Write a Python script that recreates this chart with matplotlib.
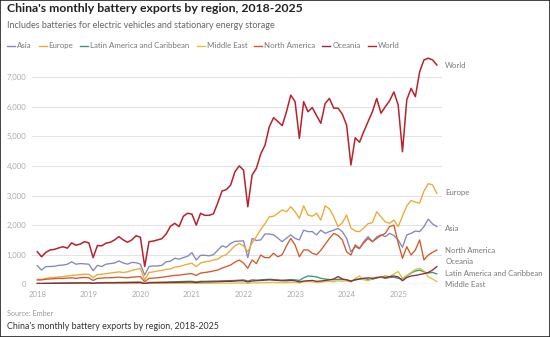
import numpy as np
import matplotlib
matplotlib.use("Agg")
import matplotlib.pyplot as plt
from matplotlib.patches import Rectangle
from matplotlib.lines import Line2D

# Monthly exports, Jan 2018 - Oct 2025 (MWh)
world = [1100, 930, 1080, 1160, 1180, 1230, 1270, 1220, 1400, 1320, 1360, 1440,
         1400, 900, 1310, 1300, 1390, 1420, 1500, 1610, 1500, 1420, 1500, 1640,
         1590, 600, 1440, 1460, 1500, 1540, 1700, 1960, 2060, 1950, 2300, 2400,
         2370, 2000, 2400, 2330, 2330, 2380, 2750, 3150, 3200, 3350, 3800, 4000,
         3860, 2620, 3690, 3920, 4400, 4700, 5320, 5630, 5500, 5360, 5830, 6390,
         6170, 4930, 6170, 5830, 5970, 5700, 5440, 6110, 6280, 5950, 5950, 5750,
         5380, 4030, 4950, 4800, 5160, 5500, 5830, 6280, 5780, 6000, 6200, 6500,
         6060, 4480, 6230, 6620, 6340, 7180, 7580, 7640, 7580, 7410]

asia = [630, 480, 600, 600, 610, 640, 650, 680, 760, 680, 700, 690,
        680, 460, 640, 600, 680, 700, 720, 790, 720, 680, 740, 730,
        680, 310, 600, 620, 620, 640, 760, 780, 880, 850, 900, 950,
        1070, 820, 980, 980, 960, 1000, 1150, 1300, 1250, 1380, 1450, 1460,
        1470, 900, 1550, 1480, 1500, 1700, 1700, 1670, 1560, 1440, 1560, 1670,
        1550, 1500, 1830, 1780, 1780, 1670, 1830, 1720, 1780, 1830, 1890, 1780,
        1550, 1100, 1270, 1200, 1450, 1610, 1440, 1600, 1670, 1610, 1720, 1650,
        1500, 1250, 1670, 1720, 1800, 1780, 1950, 2200, 2040, 1950]

europe = [170, 160, 200, 220, 230, 250, 260, 280, 300, 310, 330, 340,
          340, 230, 330, 340, 360, 380, 400, 420, 400, 420, 470, 500,
          540, 145, 400, 420, 450, 470, 500, 520, 580, 600, 640, 680,
          710, 600, 720, 760, 780, 820, 850, 950, 1000, 1150, 1300, 1380,
          1300, 1100, 1400, 1610, 1850, 2050, 2280, 2300, 2400, 2510, 2450, 2620,
          2450, 2230, 2650, 2340, 2300, 2400, 2170, 2650, 2550, 2280, 1950, 2080,
          2340, 1900, 1800, 1780, 1900, 2050, 2080, 2450, 2280, 2110, 2060, 2170,
          1950, 2300, 2650, 2830, 2780, 2740, 3150, 3400, 3360, 3070]

latin_america = [30, 30, 35, 35, 40, 40, 45, 45, 50, 50, 50, 55,
                 55, 35, 55, 55, 60, 60, 60, 65, 65, 70, 70, 75,
                 75, 30, 60, 65, 70, 70, 75, 80, 85, 90, 95, 100,
                 100, 80, 100, 100, 105, 110, 110, 115, 120, 125, 130, 140,
                 150, 110, 150, 140, 150, 160, 170, 160, 150, 140, 150, 160,
                 150, 130, 220, 280, 270, 250, 200, 180, 160, 150, 170, 160,
                 150, 120, 140, 180, 200, 160, 170, 220, 240, 200, 230, 240,
                 200, 180, 280, 380, 450, 480, 420, 380, 400, 350]

middle_east = [10, 10, 10, 12, 12, 14, 14, 15, 15, 16, 18, 18,
               18, 10, 18, 20, 20, 20, 22, 22, 24, 24, 25, 25,
               25, 10, 20, 22, 24, 25, 26, 28, 28, 30, 30, 32,
               32, 25, 32, 34, 35, 36, 38, 40, 40, 42, 44, 45,
               45, 30, 45, 50, 50, 55, 55, 60, 55, 50, 55, 60,
               60, 50, 80, 100, 80, 60, 70, 90, 100, 80, 120, 100,
               120, 80, 200, 280, 150, 120, 200, 250, 220, 300, 250, 350,
               430, 200, 300, 400, 500, 540, 450, 250, 180, 90]

north_america = [145, 150, 170, 180, 190, 200, 200, 210, 220, 200, 220, 230,
                 220, 130, 200, 210, 220, 220, 230, 240, 230, 220, 240, 250,
                 260, 80, 200, 210, 220, 240, 260, 280, 300, 310, 330, 350,
                 360, 300, 380, 400, 420, 450, 480, 550, 600, 650, 750, 820,
                 720, 540, 820, 700, 990, 900, 900, 1050, 930, 1000, 1300, 1550,
                 1330, 930, 1160, 1160, 1050, 1000, 1150, 1350, 1550, 1720, 1650, 1500,
                 1100, 990, 1330, 1220, 1400, 1550, 1440, 1550, 1650, 1720, 1950, 2000,
                 1400, 880, 1270, 990, 1160, 1500, 820, 990, 1080, 1160]

oceania = [30, 25, 30, 30, 35, 35, 35, 40, 40, 40, 45, 45,
           45, 30, 45, 45, 50, 50, 50, 55, 55, 55, 60, 60,
           60, 20, 50, 55, 55, 60, 60, 65, 65, 70, 70, 75,
           75, 60, 75, 80, 80, 85, 90, 95, 100, 100, 110, 120,
           120, 80, 110, 120, 130, 140, 150, 140, 130, 120, 120, 130,
           120, 80, 110, 120, 130, 100, 110, 130, 150, 180, 260, 180,
           150, 100, 160, 180, 200, 220, 200, 220, 250, 230, 260, 280,
           250, 120, 230, 280, 300, 330, 360, 400, 480, 600]

series_names = ["Asia", "Europe", "Latin America and Caribbean", "Middle East",
                "North America", "Oceania", "World"]
series_values = [asia, europe, latin_america, middle_east, north_america, oceania, world]
series_colors = ["#8387bb", "#eea733", "#2f9c72", "#dcc23e", "#d4582b", "#93283f", "#b8222d"]

# end-of-line label heights (data units), spread apart to avoid overlap
label_y = {"World": 7380, "Europe": 3110, "Asia": 1900, "North America": 1150,
           "Oceania": 770, "Latin America and Caribbean": 365, "Middle East": 0}

year_ticks = [2018, 2019, 2020, 2021, 2022, 2023, 2024, 2025]
value_ticks = [0, 1000, 2000, 3000, 4000, 5000, 6000, 7000]

n = len(world)
x = 2018 + np.arange(n) / 12.0

plt.rcParams['font.family'] = ['Lato', 'DejaVu Sans']

W, H = 550, 337
fig = plt.figure(figsize=(W / 100, H / 100), dpi=100)
fig.patch.set_facecolor("white")

ax_left, ax_right = 32 / W, 442 / W
ax_bottom, ax_top = 1 - 284.3 / H, 1 - 55 / H
ax = fig.add_axes([ax_left, ax_bottom, ax_right - ax_left, ax_top - ax_bottom])

for name, vals, col in zip(series_names, series_values, series_colors):
    lw = 1.1 if name == "World" else 0.95
    ax.plot(x, vals, color=col, lw=lw, solid_joinstyle="round", zorder=3)

ax.set_xlim(2018 - 1.23 / 12, 2018 + 94.2 / 12)
ax.set_ylim(0, 7747)

for v in value_ticks:
    ax.axhline(v, color="#888888" if v == 0 else "#e3e3e3", lw=0.8, zorder=1)

for s in ax.spines.values():
    s.set_visible(False)
ax.set_yticks(value_ticks)
ax.set_yticklabels([f"{v:,}" for v in value_ticks])
ax.set_xticks(year_ticks)
ax.set_xticklabels([str(y) for y in year_ticks])
ax.tick_params(axis="both", length=0, labelsize=5.6, colors="#aaaaaa")
ax.tick_params(axis="y", pad=4)
ax.tick_params(axis="x", pad=5)

# labels at the end of each line
x_end = x[-1]
for name, col in zip(series_names, series_colors):
    ax.annotate(name, xy=(x_end, label_y[name]), xytext=(6, 0),
                textcoords="offset points", va="center", ha="left",
                fontsize=5.6, color="#777777", annotation_clip=False)

# titles
fig.text(7 / W, 1 - 9 / H, "China's monthly battery exports by region, 2018-2025",
         fontsize=8.8, fontweight="bold", color="#222222", va="center", ha="left")
fig.text(7 / W, 1 - 25 / H,
         "Includes batteries for electric vehicles and stationary energy storage",
         fontsize=6.5, color="#666666", va="center", ha="left")

# legend row
fig.canvas.draw()
renderer = fig.canvas.get_renderer()
cx = 7
ly = 1 - 45.5 / H
for name, col in zip(series_names, series_colors):
    fig.add_artist(Line2D([cx / W, (cx + 8) / W], [ly, ly], color=col, lw=1.0,
                          transform=fig.transFigure))
    t = fig.text((cx + 10) / W, ly, name, fontsize=5.7, color="#777777",
                 va="center", ha="left")
    bb = t.get_window_extent(renderer=renderer)
    cx = cx + 10 + bb.width + 7

fig.text(7 / W, 1 - 313.5 / H, "Source: Ember", fontsize=5.2, color="#999999",
         va="center", ha="left")
fig.text(7 / W, 1 - 326.5 / H, "China's monthly battery exports by region, 2018-2025",
         fontsize=6.4, color="#333333", va="center", ha="left")

# outer frame
fig.add_artist(Rectangle((0, 0), 1, 1, transform=fig.transFigure, fill=False,
                         edgecolor="#222222", lw=1.2))

fig.savefig("out.png", dpi=100, facecolor="white")
